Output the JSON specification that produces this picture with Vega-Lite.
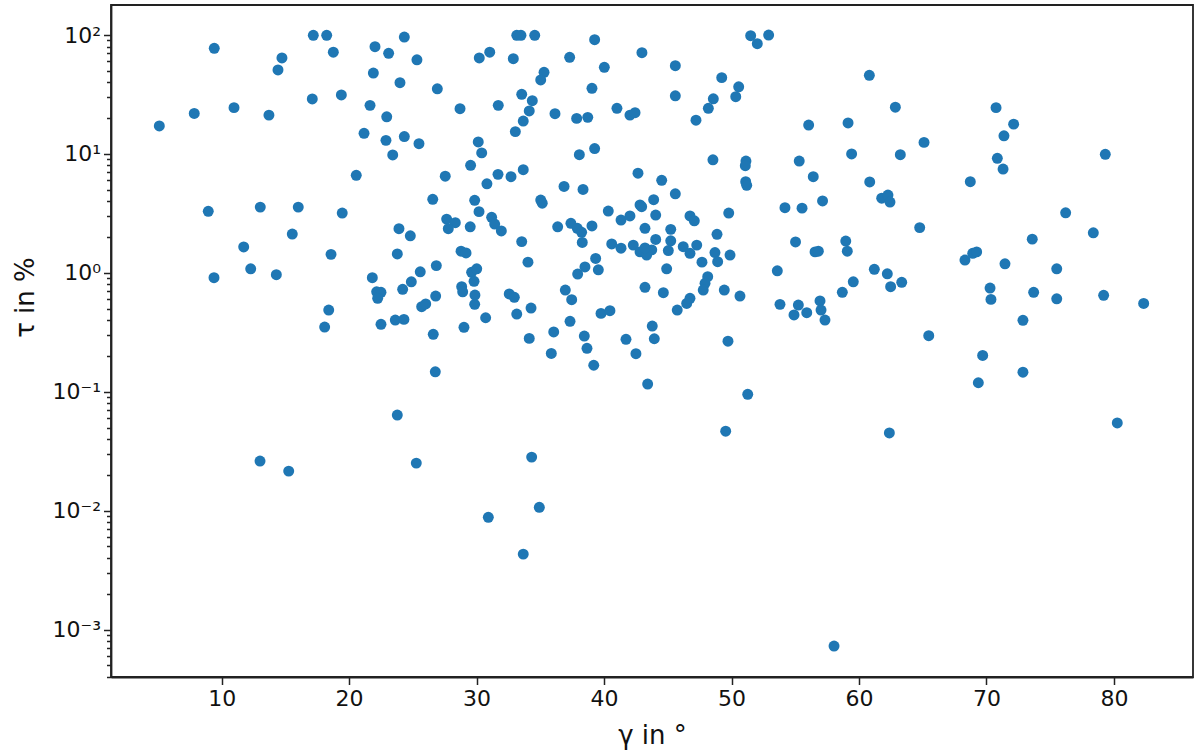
{
 "$schema": "https://vega.github.io/schema/vega-lite/v6.json",
 "width": 1082, "height": 672,
 "autosize": {"type": "none"},
 "padding": {"left": 111, "top": 5, "right": 7, "bottom": 79},
 "background": "white",
 "config": {
  "view": {"stroke": "#222", "strokeWidth": 1.8},
  "axis": {"domainColor": "#222", "domainWidth": 1.8, "tickColor": "#222", "tickWidth": 1.5, "labelColor": "#111", "titleColor": "#111", "labelFont": "DejaVu Sans", "titleFont": "DejaVu Sans", "grid": false, "titleFontWeight": "normal"}
 },
 "data": {"values": [
  {"g":5.11,"t":17.2},{"g":7.85,"t":21.9},{"g":9.42,"t":77.3},{"g":10.97,"t":24.5},{"g":13.71,"t":21.2},{"g":14.42,"t":50.8},{"g":14.73,"t":64.1},{"g":17.11,"t":29.0},{"g":17.19,"t":99.4},{"g":18.24,"t":99.4},{"g":18.76,"t":71.7},{"g":19.39,"t":31.3},{"g":21.17,"t":14.9},{"g":21.64,"t":25.6},{"g":21.90,"t":47.9},{"g":22.03,"t":79.7},{"g":22.89,"t":13.0},{"g":22.95,"t":20.5},{"g":23.10,"t":70.2},{"g":23.42,"t":9.8},{"g":23.99,"t":39.7},{"g":24.33,"t":14.0},{"g":24.33,"t":96.2},{"g":25.32,"t":61.9},{"g":25.48,"t":12.2},{"g":26.92,"t":35.3},{"g":28.70,"t":24.0},{"g":20.56,"t":6.61},{"g":27.54,"t":6.49},{"g":29.53,"t":8.02},{"g":26.56,"t":4.15},{"g":29.85,"t":4.07},{"g":8.95,"t":3.29},{"g":13.03,"t":3.57},{"g":16.01,"t":3.57},{"g":19.46,"t":3.18},{"g":15.54,"t":2.12},{"g":11.73,"t":1.65},{"g":23.91,"t":2.35},{"g":24.80,"t":2.05},{"g":27.65,"t":2.83},{"g":28.33,"t":2.64},{"g":27.78,"t":2.35},{"g":29.50,"t":2.44},{"g":18.58,"t":1.43},{"g":23.78,"t":1.44},{"g":28.78,"t":1.52},{"g":29.17,"t":1.47},
  {"g":33.15,"t":99.4},{"g":33.48,"t":99.4},{"g":34.56,"t":99.4},{"g":39.26,"t":91.3},{"g":30.21,"t":64.1},{"g":31.03,"t":71.7},{"g":32.88,"t":63.2},{"g":37.30,"t":64.9},{"g":42.97,"t":71.0},{"g":40.02,"t":53.5},{"g":45.59,"t":55.2},{"g":35.29,"t":48.6},{"g":35.03,"t":41.9},{"g":39.05,"t":35.6},{"g":49.23,"t":43.8},{"g":51.50,"t":98.7},{"g":52.02,"t":84.5},{"g":52.91,"t":100},{"g":50.56,"t":36.7},{"g":50.33,"t":30.3},{"g":45.59,"t":30.8},{"g":48.57,"t":29.1},{"g":48.18,"t":24.2},{"g":47.21,"t":19.2},{"g":33.54,"t":31.7},{"g":34.37,"t":28.0},{"g":34.13,"t":23.0},{"g":33.66,"t":18.9},{"g":33.04,"t":15.4},{"g":31.70,"t":25.6},{"g":36.15,"t":21.8},{"g":37.85,"t":19.9},{"g":38.72,"t":20.3},{"g":41.01,"t":24.2},{"g":42.03,"t":21.2},{"g":42.43,"t":22.2},{"g":56.05,"t":17.5},{"g":30.13,"t":12.6},{"g":30.40,"t":10.2},{"g":31.68,"t":6.73},{"g":32.70,"t":6.43},{"g":33.66,"t":7.36},{"g":30.81,"t":5.61},{"g":38.06,"t":9.85},{"g":39.26,"t":11.1},{"g":42.66,"t":6.88},{"g":44.52,"t":6.00},{"g":48.54,"t":8.93},{"g":51.13,"t":8.71},{"g":51.08,"t":7.96},{"g":51.11,"t":5.84},{"g":51.19,"t":5.44},{"g":55.31,"t":8.71},{"g":56.41,"t":6.43},{"g":36.86,"t":5.33},{"g":38.35,"t":5.03},{"g":45.59,"t":4.62},{"g":30.19,"t":3.27},{"g":35.03,"t":4.09},{"g":35.15,"t":3.85},{"g":31.18,"t":2.93},{"g":31.42,"t":2.57},{"g":31.94,"t":2.25},{"g":33.54,"t":1.83},{"g":36.36,"t":2.44},{"g":37.40,"t":2.61},{"g":37.90,"t":2.37},{"g":38.24,"t":2.19},{"g":38.29,"t":1.80},{"g":39.05,"t":2.48},{"g":40.33,"t":3.31},{"g":41.33,"t":2.78},{"g":42.03,"t":3.01},{"g":42.82,"t":3.72},{"g":42.95,"t":3.60},{"g":43.89,"t":4.12},{"g":44.05,"t":3.06},{"g":43.21,"t":2.37},{"g":44.05,"t":1.91},{"g":45.23,"t":2.32},{"g":45.23,"t":1.86},{"g":46.74,"t":3.01},{"g":47.08,"t":2.74},{"g":49.78,"t":3.18},{"g":48.86,"t":2.11},{"g":54.19,"t":3.53},{"g":55.53,"t":3.50},{"g":57.14,"t":4.02},{"g":55.02,"t":1.82},
  {"g":60.81,"t":45.8},{"g":62.85,"t":24.7},{"g":59.14,"t":18.2},{"g":59.42,"t":10.0},{"g":63.24,"t":9.85},{"g":65.10,"t":12.5},{"g":70.75,"t":24.5},{"g":72.13,"t":17.8},{"g":71.37,"t":14.2},{"g":70.85,"t":9.18},{"g":71.30,"t":7.46},{"g":79.32,"t":9.93},{"g":60.84,"t":5.81},{"g":68.73,"t":5.84},{"g":61.78,"t":4.24},{"g":62.27,"t":4.51},{"g":62.43,"t":3.94},{"g":64.76,"t":2.40},{"g":76.21,"t":3.20},{"g":78.38,"t":2.17},{"g":73.59,"t":1.92},{"g":58.96,"t":1.85},{"g":59.08,"t":1.52},
  {"g":9.40,"t":0.910},{"g":12.28,"t":1.08},{"g":14.29,"t":0.964},{"g":21.82,"t":0.910},{"g":22.16,"t":0.693},{"g":22.50,"t":0.686},{"g":22.24,"t":0.611},{"g":24.20,"t":0.727},{"g":24.88,"t":0.841},{"g":25.58,"t":1.02},{"g":26.84,"t":1.15},{"g":25.69,"t":0.519},{"g":26.01,"t":0.547},{"g":26.79,"t":0.638},{"g":28.83,"t":0.764},{"g":28.91,"t":0.693},{"g":18.40,"t":0.486},{"g":18.08,"t":0.350},{"g":22.50,"t":0.369},{"g":23.62,"t":0.401},{"g":24.30,"t":0.406},{"g":26.60,"t":0.304},{"g":26.76,"t":0.147},{"g":23.78,"t":0.0637},{"g":13.01,"t":0.0261},{"g":15.26,"t":0.0215},{"g":25.27,"t":0.0251},
  {"g":29.61,"t":1.01},{"g":30.01,"t":1.08},{"g":29.80,"t":0.849},{"g":29.87,"t":0.650},{"g":29.85,"t":0.543},{"g":30.71,"t":0.419},{"g":29.01,"t":0.348},{"g":32.56,"t":0.664},{"g":32.96,"t":0.623},{"g":33.15,"t":0.450},{"g":34.27,"t":0.506},{"g":34.03,"t":1.23},{"g":34.13,"t":0.281},{"g":36.05,"t":0.318},{"g":35.86,"t":0.210},{"g":36.96,"t":0.716},{"g":37.46,"t":0.594},{"g":37.33,"t":0.391},{"g":37.93,"t":0.977},{"g":38.50,"t":1.12},{"g":39.34,"t":1.32},{"g":39.55,"t":1.06},{"g":38.45,"t":0.294},{"g":38.66,"t":0.232},{"g":39.19,"t":0.167},{"g":39.76,"t":0.456},{"g":40.46,"t":0.480},{"g":40.60,"t":1.75},{"g":41.33,"t":1.61},{"g":42.29,"t":1.71},{"g":42.82,"t":1.50},{"g":43.34,"t":1.41},{"g":43.74,"t":1.56},{"g":43.21,"t":1.62},{"g":45.04,"t":1.54},{"g":46.21,"t":1.66},{"g":46.74,"t":1.46},{"g":47.27,"t":1.71},{"g":44.91,"t":1.08},{"g":43.21,"t":0.755},{"g":44.65,"t":0.681},{"g":43.78,"t":0.357},{"g":43.94,"t":0.279},{"g":41.72,"t":0.276},{"g":42.50,"t":0.209},{"g":43.42,"t":0.116},{"g":45.74,"t":0.486},{"g":46.48,"t":0.553},{"g":46.74,"t":0.611},{"g":47.68,"t":1.23},{"g":48.13,"t":0.927},{"g":47.92,"t":0.816},{"g":47.78,"t":0.716},{"g":48.70,"t":1.48},{"g":48.91,"t":1.24},{"g":49.88,"t":1.41},{"g":49.43,"t":0.716},{"g":50.66,"t":0.638},{"g":49.72,"t":0.266},{"g":51.27,"t":0.0951},{"g":49.54,"t":0.0466},{"g":34.32,"t":0.0282},{"g":53.59,"t":1.04},{"g":53.80,"t":0.543},{"g":55.24,"t":0.536},{"g":54.90,"t":0.442},{"g":55.90,"t":0.462},{"g":56.55,"t":1.50},{"g":56.81,"t":1.52},{"g":56.94,"t":0.580},{"g":57.02,"t":0.486},{"g":57.33,"t":0.401},
  {"g":61.20,"t":1.07},{"g":62.22,"t":0.982},{"g":62.48,"t":0.764},{"g":63.35,"t":0.832},{"g":59.55,"t":0.841},{"g":58.69,"t":0.686},{"g":65.47,"t":0.296},{"g":62.38,"t":0.0450},{"g":68.31,"t":1.28},{"g":68.92,"t":1.46},{"g":69.23,"t":1.50},{"g":71.45,"t":1.19},{"g":75.51,"t":1.08},{"g":70.28,"t":0.745},{"g":70.35,"t":0.598},{"g":73.70,"t":0.686},{"g":75.51,"t":0.605},{"g":79.19,"t":0.647},{"g":82.33,"t":0.553},{"g":72.86,"t":0.399},{"g":69.70,"t":0.202},{"g":72.86,"t":0.146},{"g":69.36,"t":0.119},{"g":80.26,"t":0.0546},
  {"g":30.92,"t":0.00879},{"g":34.92,"t":0.01067},{"g":33.66,"t":0.00431},{"g":58.04,"t":0.000727}
 ]},
 "mark": {"type": "circle", "size": 120, "color": "#1f77b4", "opacity": 1},
 "encoding": {
  "x": {"field": "g", "type": "quantitative",
   "scale": {"domain": [1.32, 86.2], "nice": false, "zero": false},
   "axis": {"title": "γ in °", "values": [10,20,30,40,50,60,70,80], "tickSize": 7.5, "labelFontSize": 22, "labelPadding": 4, "labelFlush": false, "titleFontSize": 26, "titleY": 66, "titleBaseline": "alphabetic"}},
  "y": {"field": "t", "type": "quantitative",
   "scale": {"type": "log", "domain": [0.000399, 178.8], "nice": false},
   "axis": {"title": "τ in %",
    "values": [0.0004,0.0005,0.0006,0.0007,0.0008,0.0009,0.001,0.002,0.003,0.004,0.005,0.006,0.007,0.008,0.009,0.01,0.02,0.03,0.04,0.05,0.06,0.07,0.08,0.09,0.1,0.2,0.3,0.4,0.5,0.6,0.7,0.8,0.9,1,2,3,4,5,6,7,8,9,10,20,30,40,50,60,70,80,90,100],
    "labelExpr": "abs(log(datum.value)/LN10 - round(log(datum.value)/LN10)) < 0.001 ? (round(log(datum.value)/LN10) == 2 ? '10²' : round(log(datum.value)/LN10) == 1 ? '10¹' : round(log(datum.value)/LN10) == 0 ? '10⁰' : round(log(datum.value)/LN10) == -1 ? '10⁻¹' : round(log(datum.value)/LN10) == -2 ? '10⁻²' : '10⁻³') : ''",
    "tickSize": {"condition": {"test": "abs(log(datum.value)/LN10 - round(log(datum.value)/LN10)) < 0.001", "value": 7.5}, "value": 4.5},
    "labelOverlap": false, "labelFlush": false, "labelFontSize": 22, "labelPadding": 3,
    "titleFontSize": 26, "titleX": -78, "titleY": 292, "titleBaseline": "alphabetic", "titleAlign": "center", "titleAngle": -90}}
 }
}
